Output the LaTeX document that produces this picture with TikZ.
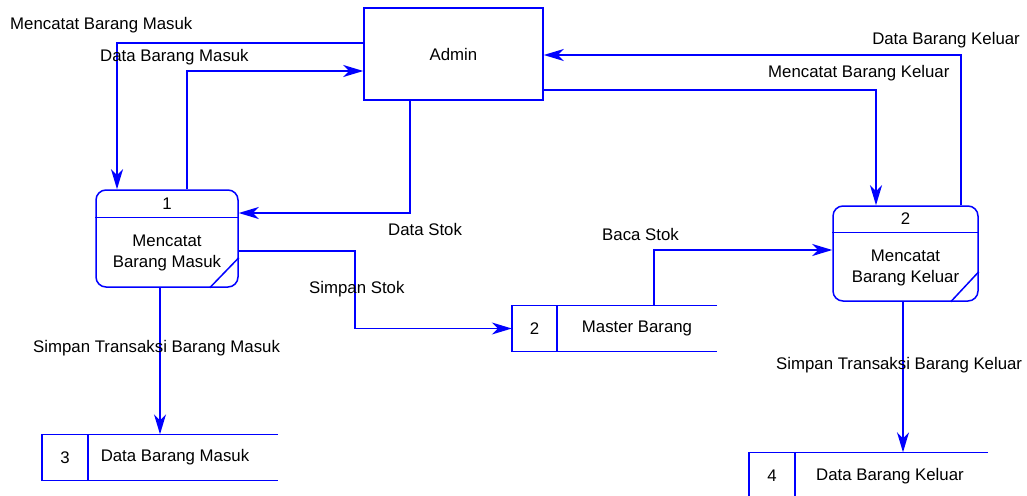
\documentclass[tikz,border=0pt]{standalone}
\usepackage{fontspec}
\setmainfont{Liberation Sans}
\usetikzlibrary{arrows.meta}
\begin{document}
\begin{tikzpicture}[x=1pt,y=-1pt,
        line/.style={draw=blue,line width=1.5pt},
        flow/.style={line,-{Stealth[length=20pt,width=12pt,inset=6pt]}},
        lbl/.style={font=\fontsize{16.8}{21.5}\selectfont,inner sep=0pt},
        procbox/.style={line,rounded corners=10pt},
        storebox/.style={minimum height=46pt,inner sep=0pt}
    ]
        \useasboundingbox (0,0) rectangle (1027,495);

        % entity
        \node[line,lbl,minimum width=179pt,minimum height=92pt] (admin) at (453.5,54) {Admin};

        % processes
        \node[procbox,minimum width=142pt,minimum height=97pt] (p1) at (167,238.5) {};
        \draw[line] ([yshift=-28pt]p1.north west) -- ([yshift=-28pt]p1.north east);
        \draw[line] ([xshift=-29pt]p1.south east) -- ([yshift=30pt]p1.south east);
        \node[lbl] (p1num) at ([yshift=-14pt]p1.north) {1};
        \node[lbl,align=center] (p1txt) at (167,253) {Mencatat\\Barang Masuk};

        \node[procbox,minimum width=145pt,minimum height=95pt] (p2) at (905.5,253.5) {};
        \draw[line] ([yshift=-27pt]p2.north west) -- ([yshift=-27pt]p2.north east);
        \draw[line] ([xshift=-28pt]p2.south east) -- ([yshift=30pt]p2.south east);
        \node[lbl] (p2num) at ([yshift=-13.5pt]p2.north) {2};
        \node[lbl,align=center] (p2txt) at (905.5,268) {Mencatat\\Barang Keluar};

        % stores
        \node[storebox,minimum width=205pt] (st2) at (614.5,328.5) {};
        \draw[line] (st2.north east) -- (st2.north west) -- (st2.south west) -- (st2.south east);
        \draw[line] ([xshift=45pt]st2.north west) -- ([xshift=45pt]st2.south west);
        \node[lbl] (st2num) at (534.5,328.5) {2};
        \node[lbl] (st2txt) at (637,328.5) {Master Barang};

        \node[storebox,minimum width=236pt] (st3) at (160,457.5) {};
        \draw[line] (st3.north east) -- (st3.north west) -- (st3.south west) -- (st3.south east);
        \draw[line] ([xshift=46pt]st3.north west) -- ([xshift=46pt]st3.south west);
        \node[lbl] (st3num) at (65,457.5) {3};
        \node[lbl] (st3txt) at (175,457.5) {Data Barang Masuk};

        \node[storebox,minimum width=239pt] (st4) at (868.5,475.5) {};
        \draw[line] (st4.north east) -- (st4.north west) -- (st4.south west) -- (st4.south east);
        \draw[line] ([xshift=46pt]st4.north west) -- ([xshift=46pt]st4.south west);
        \node[lbl] (st4num) at (772,476) {4};
        \node[lbl] (st4txt) at (890,476) {Data Barang Keluar};

        % flows
        \draw[flow] ([yshift=11pt]admin.west) -| ([xshift=-50pt]p1.north);
        \draw[flow] ([xshift=20pt]p1.north) |- ([yshift=-17pt]admin.west);
        \draw[flow] ([xshift=-43.5pt]admin.south) |- ([yshift=25.5pt]p1.east);
        \draw[flow] ([yshift=-12.5pt]p1.east) -- ++(116,0) |- (st2.west);
        \draw[flow] ([xshift=39.5pt]st2.north) |- ([yshift=3.5pt]p2.west);
        \draw[flow] ([yshift=-36pt]admin.east) -| ([xshift=-29.5pt]p2.north);
        \draw[flow] ([xshift=55.5pt]p2.north) |- ([yshift=-1pt]admin.east);
        \draw[flow] (st3.north |- p1.south) -- (st3.north);
        \draw[flow] ([xshift=-2.5pt]p2.south) -- ([xshift=-2.5pt]p2.south |- st4.north);

        % flow labels
        \node[lbl,anchor=west] (l1) at (10,25) {Mencatat Barang Masuk};
        \node[lbl,anchor=west] (l2) at (100,57) {Data Barang Masuk};
        \node[lbl,anchor=west] (l3) at (388,229) {Data Stok};
        \node[lbl,anchor=west] (l4) at (309,289) {Simpan Stok};
        \node[lbl,anchor=west] (l5) at (602,234) {Baca Stok};
        \node[lbl,anchor=west] (l6) at (768,73) {Mencatat Barang Keluar};
        \node[lbl,anchor=east] (l7) at (1020,40) {Data Barang Keluar};
        \node[lbl,anchor=west] (l8) at (33,348) {Simpan Transaksi Barang Masuk};
        \node[lbl,anchor=west] (l9) at (776,365) {Simpan Transaksi Barang Keluar};
    \end{tikzpicture}
\end{document}
